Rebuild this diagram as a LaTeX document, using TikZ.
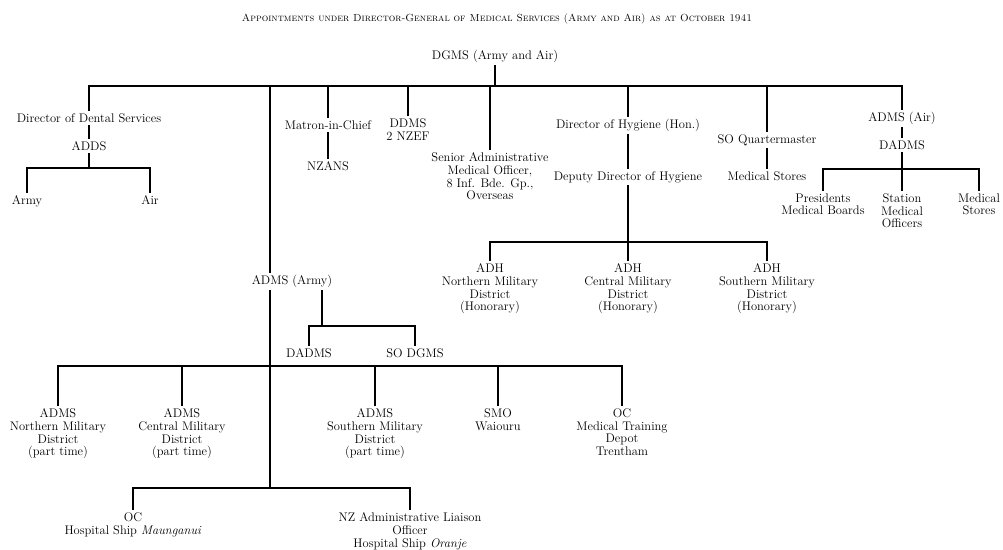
\documentclass[tikz,border=0pt]{standalone}
\usepackage{fontspec}
\usepackage{graphicx}
\tikzset{
  lbl/.style={align=center, inner sep=0pt, outer sep=3pt, anchor=north, font=\fontsize{12.5}{12.8}\selectfont},
  ln/.style={line width=1.35pt, line cap=rect},
}
\begin{document}
\begin{tikzpicture}[x=1pt,y=-1pt]
\useasboundingbox (0,0) rectangle (1003,549);
\fill[white] (0,0) rectangle (1003,549);

% title
\node[inner sep=0pt] (title) at (497,19) {\resizebox{510pt}{!}{\textsc{Appointments under Director-General of Medical Services (Army and Air) as at October 1941}}};

% nodes
\node[lbl] (dgms) at (495,47.5) {DGMS (Army and Air)};
\node[lbl] (dental) at (89,110.5) {Director of Dental Services};
\node[lbl] (adds) at (89,138.5) {ADDS};
\node[lbl] (army) at (27,192.5) {Army};
\node[lbl] (air) at (150,192.5) {Air};
\node[lbl] (matron) at (328,117.5) {Matron-in-Chief};
\node[lbl] (nzans) at (328,158.5) {NZANS};
\node[lbl] (ddms) at (408,115.5) {DDMS\\2 NZEF};
\node[lbl] (sao) at (490,149.5) {Senior Administrative\\Medical Officer,\\8 Inf. Bde. Gp.,\\Overseas};
\node[lbl] (dirhyg) at (628,116.5) {Director of Hygiene (Hon.)};
\node[lbl] (dephyg) at (628,168.5) {Deputy Director of Hygiene};
\node[lbl] (adhn) at (490,260.5) {ADH\\Northern Military\\District\\(Honorary)};
\node[lbl] (adhc) at (628,260.5) {ADH\\Central Military\\District\\(Honorary)};
\node[lbl] (adhs) at (767,260.5) {ADH\\Southern Military\\District\\(Honorary)};
\node[lbl] (soqm) at (767,131.5) {SO Quartermaster};
\node[lbl] (medstores) at (767,168.5) {Medical Stores};
\node[lbl] (admsair) at (902,109.5) {ADMS (Air)};
\node[lbl] (dadmsair) at (902,137.5) {DADMS};
\node[lbl] (presidents) at (823,190.5) {Presidents\\Medical Boards};
\node[lbl] (station) at (902,190.5) {Station\\Medical\\Officers};
\node[lbl] (airstores) at (979,190.5) {Medical\\Stores};
\node[lbl] (admsarmy) at (292,272.5) {ADMS (Army)};
\node[lbl] (dadms) at (309,345.5) {DADMS};
\node[lbl] (sodgms) at (415,345.5) {SO DGMS};
\node[lbl] (admsn) at (58,405.5) {ADMS\\Northern Military\\District\\(part time)};
\node[lbl] (admsc) at (182,405.5) {ADMS\\Central Military\\District\\(part time)};
\node[lbl] (admss) at (375,405.5) {ADMS\\Southern Military\\District\\(part time)};
\node[lbl] (smo) at (498,405.5) {SMO\\Waiouru};
\node[lbl] (ocmtd) at (622,405.5) {OC\\Medical Training\\Depot\\Trentham};
\node[lbl] (ochs) at (133,509.5) {OC\\Hospital Ship \textit{Maunganui}};
\node[lbl] (nzalo) at (410,509.5) {NZ Administrative Liaison\\Officer\\Hospital Ship \textit{Oranje}};

% bar levels
\coordinate (topbar) at (0,86);
\coordinate (dentbar) at (0,168);
\coordinate (adhbar) at (0,242);
\coordinate (airbar) at (0,169);
\coordinate (armybar) at (0,326);
\coordinate (lowbar) at (0,366);
\coordinate (botbar) at (0,488);
\coordinate (longx) at (270,0);
\coordinate (armyx) at (322,0);

% top level
\draw[ln] (dgms.south) -- (dgms.south |- topbar);
\draw[ln] (dental.north |- topbar) -- (admsair.north |- topbar);
\foreach \n in {dental,matron,ddms,sao,dirhyg,soqm,admsair}
  \draw[ln] (\n.north |- topbar) -- (\n.north);

% dental
\draw[ln] (dental.south) -- (adds.north);
\draw[ln] (adds.south) -- (adds.south |- dentbar);
\draw[ln] (army.north |- dentbar) -- (air.north |- dentbar);
\foreach \n in {army,air}
  \draw[ln] (\n.north |- dentbar) -- (\n.north);

% matron
\draw[ln] (matron.south) -- (nzans.north);

% hygiene
\draw[ln] (dirhyg.south) -- (dephyg.north);
\draw[ln] (dephyg.south) -- (dephyg.south |- adhbar);
\draw[ln] (adhn.north |- adhbar) -- (adhs.north |- adhbar);
\foreach \n in {adhn,adhc,adhs}
  \draw[ln] (\n.north |- adhbar) -- (\n.north);

% quartermaster
\draw[ln] (soqm.south) -- (medstores.north);

% air
\draw[ln] (admsair.south) -- (dadmsair.north);
\draw[ln] (dadmsair.south) -- (dadmsair.south |- airbar);
\draw[ln] (presidents.north |- airbar) -- (airstores.north |- airbar);
\foreach \n in {presidents,station,airstores}
  \draw[ln] (\n.north |- airbar) -- (\n.north);

% long army line
\draw[ln] (longx |- topbar) -- (longx |- admsarmy.north);
\draw[ln] (longx |- admsarmy.south) -- (longx |- botbar);

% ADMS (Army) staff
\draw[ln] (armyx |- admsarmy.south) -- (armyx |- armybar);
\draw[ln] (dadms.north |- armybar) -- (sodgms.north |- armybar);
\foreach \n in {dadms,sodgms}
  \draw[ln] (\n.north |- armybar) -- (\n.north);

% districts
\draw[ln] (admsn.north |- lowbar) -- (ocmtd.north |- lowbar);
\foreach \n in {admsn,admsc,admss,smo,ocmtd}
  \draw[ln] (\n.north |- lowbar) -- (\n.north);

% hospital ships
\draw[ln] (ochs.north |- botbar) -- (nzalo.north |- botbar);
\foreach \n in {ochs,nzalo}
  \draw[ln] (\n.north |- botbar) -- (\n.north);
\end{tikzpicture}
\end{document}
